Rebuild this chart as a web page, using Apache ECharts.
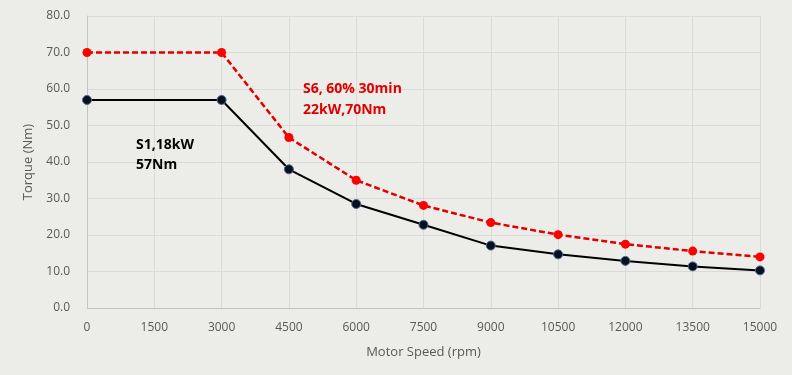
<!DOCTYPE html>
<html>
<head>
<meta charset="utf-8">
<script src="https://cdn.jsdelivr.net/npm/echarts@6/dist/echarts.min.js"></script>
<style>
html, body { margin: 0; padding: 0; background: #ecede9; }
#container { width: 792px; height: 375px; }
</style>
</head>
<body>
<div id="container"></div>
<script>
var speeds = [0, 3000, 4500, 6000, 7500, 9000, 10500, 12000, 13500, 15000];
var s1Torque = [57, 57, 38, 28.5, 22.8, 17.1, 14.7, 12.9, 11.4, 10.3];
var s6Torque = [70, 70, 46.7, 35, 28.1, 23.4, 20.1, 17.5, 15.6, 14];

function pairs(xs, ys) {
    return xs.map(function (x, i) { return [x, ys[i]]; });
}

var dom = document.getElementById("container");
var myChart = echarts.init(dom);
var labelFont = '"Open Sans", "Noto Sans", sans-serif';

option = {
    backgroundColor: '#ecede9',
    grid: { left: 87, right: 32, top: 16, bottom: 67 },
    xAxis: {
        type: 'value',
        min: 0, max: 15000, interval: 1500,
        name: 'Motor Speed (rpm)',
        nameLocation: 'middle',
        nameGap: 38,
        nameTextStyle: { color: '#595959', fontSize: 13, fontFamily: labelFont },
        axisLine: { lineStyle: { color: '#c4c4c4' } },
        axisTick: { show: false },
        axisLabel: {
            color: '#595959', fontSize: 12, fontFamily: labelFont, margin: 14,
            formatter: function (v) { return String(v); }
        },
        splitLine: { show: true, lineStyle: { color: '#dadad8' } }
    },
    yAxis: {
        type: 'value',
        min: 0, max: 80, interval: 10,
        name: 'Torque (Nm)',
        nameLocation: 'middle',
        nameGap: 52,
        nameTextStyle: { color: '#595959', fontSize: 13, fontFamily: labelFont },
        axisLine: { show: true, lineStyle: { color: '#c4c4c4' } },
        axisTick: { show: false },
        axisLabel: {
            color: '#595959', fontSize: 12, fontFamily: labelFont, margin: 17,
            formatter: function (v) { return v.toFixed(1); }
        },
        splitLine: { lineStyle: { color: '#dadad8' } }
    },
    series: [
        {
            name: 'S1',
            type: 'line',
            data: pairs(speeds, s1Torque),
            symbol: 'circle',
            symbolSize: 9,
            lineStyle: { color: '#000000', width: 2 },
            itemStyle: { color: '#0a0f1e', borderColor: '#4a6a9a', borderWidth: 1 },
            z: 3
        },
        {
            name: 'S6',
            type: 'line',
            data: pairs(speeds, s6Torque),
            symbol: 'circle',
            symbolSize: 9,
            lineStyle: { color: '#e00000', width: 2.5, type: [6, 3] },
            itemStyle: { color: '#ff0000', borderColor: '#ff0000', borderWidth: 0 },
            z: 4
        }
    ],
    graphic: [
        {
            type: 'text', left: 136, top: 135, z: 10,
            style: {
                text: 'S1,18kW\n57Nm', fill: '#000000',
                font: 'bold 14px "Open Sans", "Noto Sans", sans-serif', lineHeight: 20
            }
        },
        {
            type: 'text', left: 303, top: 79, z: 10,
            style: {
                text: 'S6, 60% 30min\n22kW,70Nm', fill: '#e00000',
                font: 'bold 14px "Open Sans", "Noto Sans", sans-serif', lineHeight: 21
            }
        }
    ]
};

if (option && typeof option === "object") {
    myChart.setOption(option, true);
}
</script>
</body>
</html>
